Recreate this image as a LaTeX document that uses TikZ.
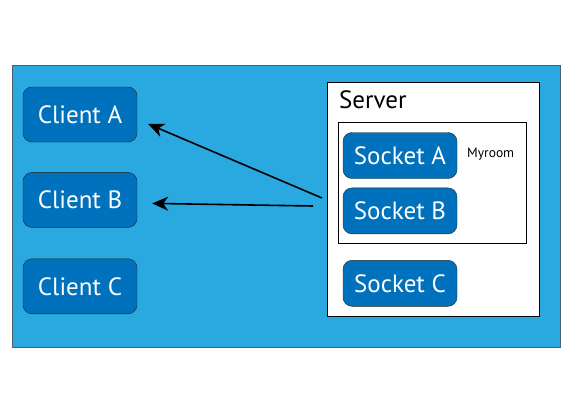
\documentclass[tikz,border=0pt]{standalone}
\usepackage{fontspec}
\setmainfont{PT Sans}
\usepackage{tikz}
\usetikzlibrary{positioning,arrows.meta}
\definecolor{panel}{HTML}{29A9E0}
\definecolor{boxfill}{HTML}{0071BC}
\definecolor{edge}{HTML}{4A5F6E}

\begin{document}
\begin{tikzpicture}[
  x=1pt, y=-1pt,
  node distance=30pt and 0pt,
  client/.style={draw=black!85, rounded corners=9pt, fill=boxfill, text=white, minimum width=114pt, minimum height=55pt, font=\fontsize{25}{28}\selectfont},
  sock/.style={draw=black!85, rounded corners=9pt, fill=boxfill, text=white, minimum width=114pt, minimum height=46pt, font=\fontsize{25}{28}\selectfont},
  line/.style={draw, line width=1.6pt, -{Stealth[length=16pt,width=14pt,inset=5pt]}}
]
\useasboundingbox (0,0) rectangle (570,420);

% Panel
\draw[edge, line width=1pt, fill=panel] (12,66) rectangle (560,347);

% Server and room
\draw[fill=white, line width=0.8pt] (327,82) rectangle (539,316);
\draw[line width=0.8pt] (338,122) rectangle (526,243);
\node[anchor=base west, inner sep=0pt, font=\fontsize{25}{28}\selectfont] (server) at (339,108) {Server};
\node[anchor=base west, inner sep=0pt, font=\fontsize{13.5}{16}\selectfont] (room) at (467,157) {Myroom};

% Clients
\node[client] (ca) at (80,114.5) {Client A};
\node[client, below=30pt of ca] (cb) {Client B};
\node[client, below=31pt of cb] (cc) {Client C};

% Sockets
\node[sock] (sa) at (400,155.5) {Socket A};
\node[sock, below=9pt of sa] (sb) {Socket B};
\node[sock, below=26pt of sb] (sc) {Socket C};

% Connectors
\coordinate (fromA) at (322,198);
\coordinate (fromB) at (313,206);
\draw[line] (fromA) -- ([shift={(11pt,-9.5pt)}]ca.east);
\draw[line] (fromB) -- ([shift={(15pt,-3.5pt)}]cb.east);

\end{tikzpicture}
\end{document}
